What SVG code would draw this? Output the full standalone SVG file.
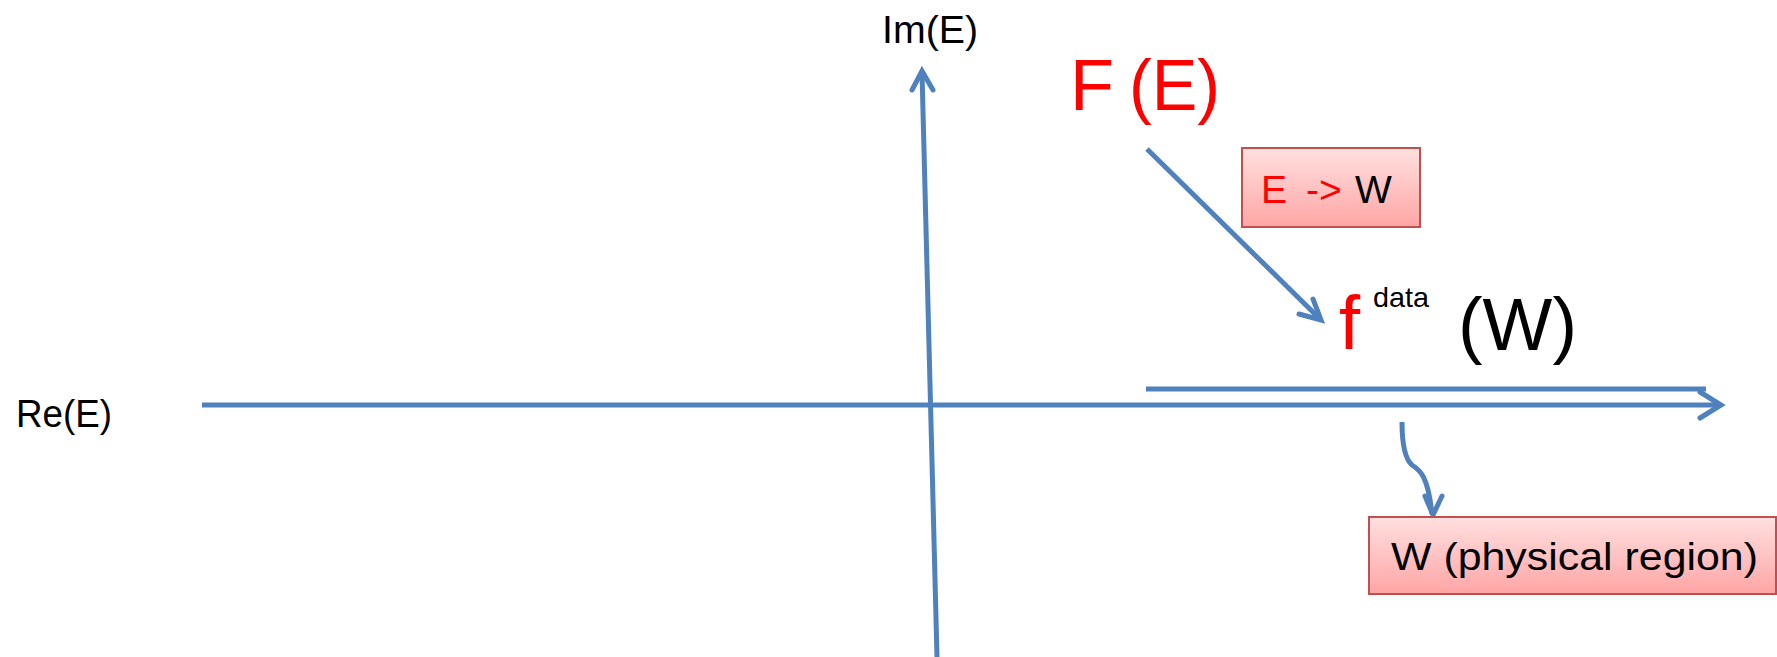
<svg xmlns="http://www.w3.org/2000/svg" width="1777" height="657" viewBox="0 0 1777 657">
  <defs>
    <linearGradient id="pinkGrad" x1="0" y1="0" x2="0" y2="1">
      <stop offset="0" stop-color="#FFE0E0"/>
      <stop offset="1" stop-color="#FFA5A5"/>
    </linearGradient>
  </defs>
  <style>
    .ax { fill: none; stroke: #4F81BD; stroke-width: 5; stroke-linecap: butt; stroke-linejoin: miter; }
    .head { fill: none; stroke: #4F81BD; stroke-width: 5; stroke-linecap: round; stroke-linejoin: miter; }
    .box { fill: url(#pinkGrad); stroke: #C0504D; stroke-width: 2; }
    .t { font-family: "Liberation Sans", Arial, sans-serif; fill: #000000; }
    .red { fill: #FF0000; }
  </style>
  <g id="connectors">
    <!-- real axis -->
    <line class="ax" x1="202" y1="405" x2="1720" y2="405"/>
    <polyline class="head" points="1700,392 1721,405 1700,418"/>
    <!-- imaginary axis -->
    <line class="ax" x1="937" y1="657" x2="922" y2="72"/>
    <polyline class="head" points="912,90 922,71 933,90"/>
    <!-- upper physical line -->
    <line class="ax" x1="1146" y1="389" x2="1706" y2="389"/>
    <!-- diagonal mapping arrow -->
    <line class="ax" x1="1147" y1="149" x2="1320" y2="319"/>
    <polyline class="head" points="1313,299 1321,320 1299,314"/>
    <!-- curved arrow to physical region -->
    <path class="ax" d="M1402,422 C1402,440 1404,458 1412,465 C1420,470 1428,476 1432,514"/>
    <polyline class="head" points="1425,496 1433,515 1442,496"/>
  </g>
  <g id="label-im">
    <text class="t" x="882" y="43" font-size="39" textLength="96" lengthAdjust="spacingAndGlyphs">Im(E)</text>
  </g>
  <g id="label-re">
    <text class="t" x="16" y="427" font-size="39" textLength="96" lengthAdjust="spacingAndGlyphs">Re(E)</text>
  </g>
  <g id="node-FE">
    <text class="t red" x="1070" y="110" font-size="72">F</text>
    <text class="t red" x="1129" y="110" font-size="72" textLength="91" lengthAdjust="spacingAndGlyphs">(E)</text>
  </g>
  <g id="node-E-to-W">
    <rect class="box" x="1242" y="148" width="178" height="79"/>
    <text class="t" font-size="39" y="203"><tspan class="red" x="1261">E</tspan><tspan class="red" x="1306">-&gt;</tspan><tspan x="1355">W</tspan></text>
  </g>
  <g id="node-fdata">
    <text class="t red" x="1339" y="349" font-size="76">f</text>
    <text class="t" x="1373" y="307" font-size="28" textLength="56" lengthAdjust="spacingAndGlyphs">data</text>
    <text class="t" x="1458" y="350" font-size="74" textLength="119" lengthAdjust="spacingAndGlyphs">(W)</text>
  </g>
  <g id="node-physical">
    <rect class="box" x="1369" y="517" width="407" height="77"/>
    <text class="t" x="1391" y="570" font-size="39" textLength="367" lengthAdjust="spacingAndGlyphs">W (physical region)</text>
  </g>
</svg>
